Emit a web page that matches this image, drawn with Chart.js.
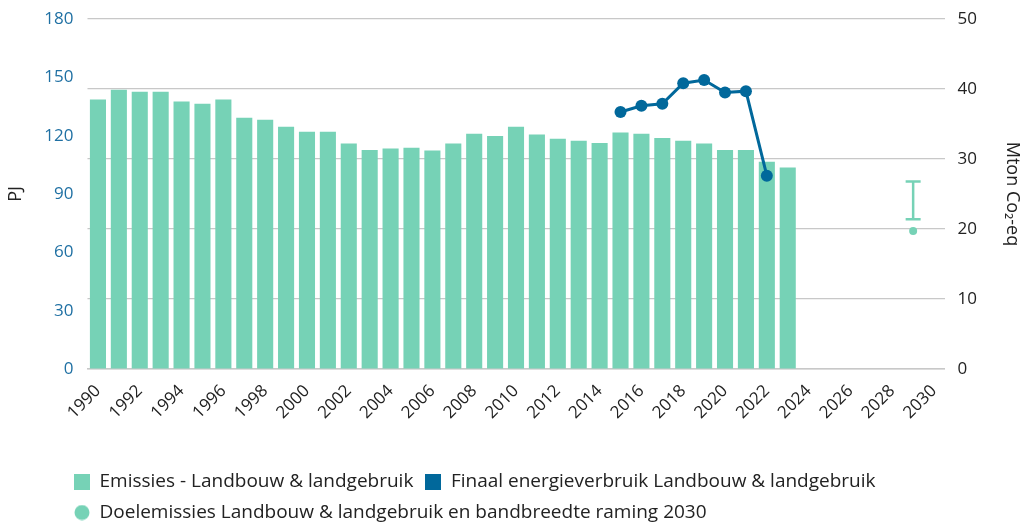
<!DOCTYPE html>
<html><head><meta charset="utf-8">
<script src="https://cdn.jsdelivr.net/npm/chart.js@4/dist/chart.umd.min.js"></script>
<style>html,body{margin:0;padding:0;background:#fff}#wrap{width:1029px;height:528px;position:relative}</style>
</head><body><div id="wrap"><canvas id="c"></canvas></div>
<script>
const years = ['1990','1991','1992','1993','1994','1995','1996','1997','1998','1999','2000','2001','2002','2003','2004','2005','2006','2007','2008','2009','2010','2011','2012','2013','2014','2015','2016','2017','2018','2019','2020','2021','2022','2023','2024','2025','2026','2027','2028','2029','2030'];
const emissions = [38.5,39.9,39.6,39.6,38.2,37.9,38.5,35.9,35.6,34.6,33.9,33.9,32.2,31.3,31.5,31.6,31.2,32.2,33.6,33.3,34.6,33.5,32.9,32.6,32.3,33.8,33.6,33.0,32.6,32.2,31.3,31.3,29.6,28.8,null,null,null,null,null,null,null];
const energy = [null,null,null,null,null,null,null,null,null,null,null,null,null,null,null,null,null,null,null,null,null,null,null,null,null,132.2,135.4,136.4,147.0,148.6,142.2,142.9,99.4,null,null,null,null,null,null,null,null];
const targetYear = '2029';
const targetValue = 19.7;
const bandLow = 21.4;
const bandHigh = 26.8;
const leftTicks = [0,30,60,90,120,150,180];
const rightTicks = [0,10,20,30,40,50];
const legendLabels = ['Emissies - Landbouw & landgebruik','Finaal energieverbruik Landbouw & landgebruik','Doelemissies Landbouw & landgebruik en bandbreedte raming 2030'];

const TEAL = '#76d2b6', BLUE = '#01689b';
const FONT = 'Open Sans';

function swatch(color, shape){
  const cv = document.createElement('canvas');
  cv.width = 16; cv.height = 16;
  const g = cv.getContext('2d');
  g.fillStyle = color;
  if (shape === 'circle'){ g.beginPath(); g.arc(8,8,7.5,0,Math.PI*2); g.fill(); }
  else { g.fillRect(0,0,16,16); }
  return cv;
}
const swatches = [swatch(TEAL,'rect'), swatch(BLUE,'rect'), swatch(TEAL,'circle')];

const LEGEND_H = 78;
const legendFix = {
  id:'legendFix',
  beforeLayout(chart){
    const lg = chart.legend;
    if (lg && !lg._patched){
      const orig = lg.fit;
      lg.fit = function(){ orig.call(this); this.height = LEGEND_H; };
      lg._patched = true;
    }
  },
  afterLayout(chart){
    const lg = chart.legend;
    if (lg){ lg.left = 62; lg.top = 460; lg.bottom = 460 + LEGEND_H; }
  }
};
const noVPad = s => { s.paddingTop = 0; s.paddingBottom = 0; };

new Chart(document.getElementById('c'), {
  data: {
    labels: years,
    datasets: [
      { type:'bar', label: legendLabels[0], data: emissions, yAxisID:'y1', backgroundColor: TEAL, order: 3,
        categoryPercentage: 1, barPercentage: 0.77 },
      { type:'line', label: legendLabels[1], data: energy, yAxisID:'y', borderColor: BLUE, backgroundColor: BLUE,
        borderWidth: 3, pointRadius: 6, pointHoverRadius: 6, pointBackgroundColor: BLUE, pointBorderWidth: 0, order: 0 },
      { type:'line', label: legendLabels[2], data: [{x: targetYear, y: targetValue}], yAxisID:'y1', showLine:false,
        backgroundColor: TEAL, borderColor: TEAL, pointRadius: 4, pointBorderWidth: 0, order: 1 },
      { type:'line', label: 'band', data: [{x: targetYear, y: bandLow},{x: targetYear, y: bandHigh}], yAxisID:'y1',
        borderColor: TEAL, backgroundColor: TEAL, borderWidth: 2.5, pointStyle:'line', pointRadius: 7.5,
        pointBorderWidth: 2.5, pointBorderColor: TEAL, order: 2 }
    ]
  },
  options: {
    responsive: true, maintainAspectRatio: false, animation: false,
    layout: { padding: { top: 19, left: 0, right: 0, bottom: 0 } },
    plugins: {
      tooltip: { enabled: false },
      legend: {
        position: 'bottom', align: 'start',
        labels: {
          usePointStyle: true, pointStyleWidth: 16, boxHeight: 16, padding: 12,
          color: '#222', font: { family: FONT, size: 19 },
          generateLabels(chart){
            return [0,1,2].map(i => ({ text: legendLabels[i], pointStyle: swatches[i], fillStyle: 'transparent',
              strokeStyle: 'transparent', lineWidth: 0, datasetIndex: i, hidden: false, fontColor: '#222' }));
          }
        }
      }
    },
    scales: {
      x: {
        grid: { display: false, drawTicks: false },
        border: { display: true, color: '#c8c8c8', width: 1.5 },
        afterFit: s => { s.height = 528 - 369 - LEGEND_H; },
        ticks: { autoSkip: false, maxRotation: 45, minRotation: 45, padding: 12, color: '#222',
          font: { family: FONT, size: 17 },
          callback: (v, i) => (i % 2 === 0 ? years[i] : null) }
      },
      y: {
        position: 'left', min: 0, max: 180,
        afterBuildTicks: s => { s.ticks = leftTicks.map(v => ({value: v})); },
        afterFit: s => { s.width = 87.5; noVPad(s); },
        grid: { display: false, drawTicks: false },
        border: { display: false },
        ticks: { color: '#1f70a3', padding: 14, font: { family: FONT, size: 17 } },
        title: { display: true, text: 'PJ', color: '#222', font: { family: FONT, size: 18 }, padding: { top: 5, bottom: 10 } }
      },
      y1: {
        position: 'right', min: 0, max: 50,
        afterBuildTicks: s => { s.ticks = rightTicks.map(v => ({value: v})); },
        afterFit: s => { s.width = 84.5; noVPad(s); },
        grid: { display: true, drawTicks: false, color: '#c8c8c8', lineWidth: 1.2 },
        border: { display: false },
        ticks: { color: '#222', padding: 13, font: { family: FONT, size: 17 } },
        title: { display: true, text: 'Mton Co₂-eq', color: '#222', font: { family: FONT, size: 18 }, padding: { top: 6, bottom: 0 } }
      }
    }
  },
  plugins: [legendFix]
});
</script></body></html>
